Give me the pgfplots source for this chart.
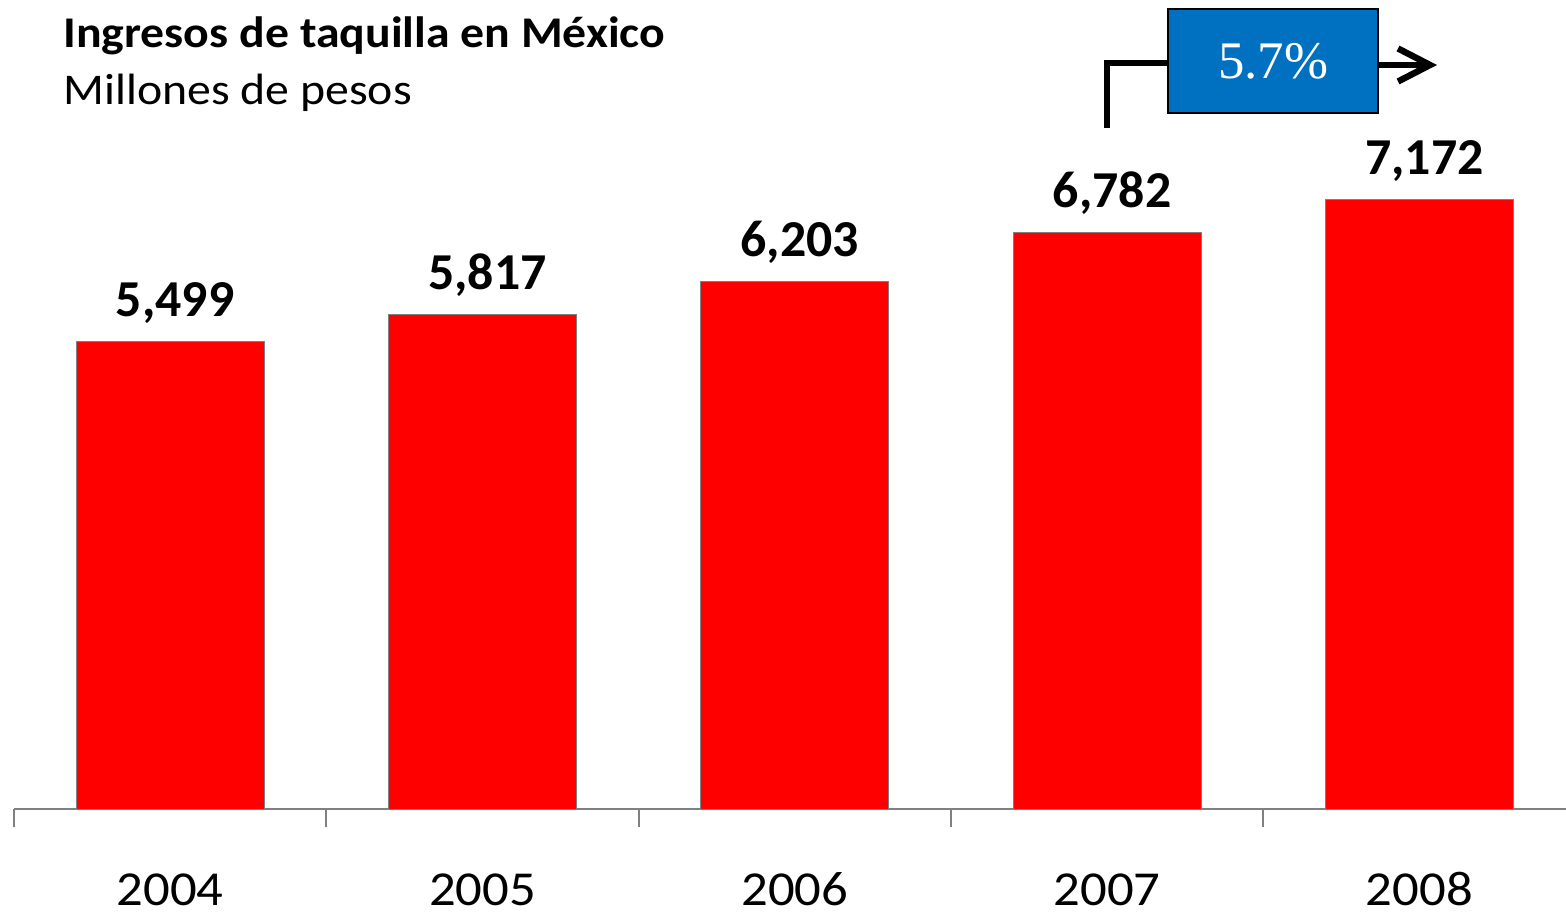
\documentclass[border=0pt]{standalone}
\usepackage{fontspec}
\setmainfont{Carlito}
\newfontfamily\serifbox{Liberation Serif}
\usepackage{graphicx}
\usepackage{pgfplots}
\pgfplotsset{compat=1.18}
\usetikzlibrary{arrows.meta}
\definecolor{barred}{RGB}{255,0,0}
\definecolor{boxblue}{RGB}{0,112,192}

\begin{document}
\begin{tikzpicture}
\useasboundingbox (0,0) rectangle (783bp,457.5bp);
\begin{axis}[
  at={(7bp,53bp)}, anchor=south west,
  scale only axis, width=776.07bp, height=403.99bp,
  clip=false,
  xmin=-0.5, xmax=4.47, ymin=0, ymax=9500,
  axis x line=bottom, axis y line=none,
  x axis line style={-,draw=gray,line width=1.2bp},
  xtick={0,...,4},
  xticklabels={\scalebox{1.08}[1]{2004},\scalebox{1.08}[1]{2005},\scalebox{1.08}[1]{2006},\scalebox{1.08}[1]{2007},\scalebox{1.08}[1]{2008}},
  minor xtick={-0.5,0.5,1.5,2.5,3.5},
  tick align=outside,
  major tick length=0pt,
  minor tick length=9bp,
  minor tick style={draw=gray,line width=1bp},
  xticklabel style={anchor=base,yshift=-48bp,font=\fontsize{24.5}{24.5}\selectfont},
  /pgf/number format/assume math mode=true,
  /pgf/number format/1000 sep={,},
  ybar, bar width=94bp,
  nodes near coords,
  every node near coord/.append style={anchor=base,yshift=12.5bp,xshift=2.5bp,inner sep=0pt,
    font=\bfseries\fontsize{26}{26}\selectfont},
]
\addplot[fill=barred, draw=gray, line width=0.5bp]
  coordinates {(0,5499) (1,5817) (2,6203) (3,6782) (4,7172)};
\end{axis}

% titles
\node[anchor=base west, inner sep=0pt, font=\bfseries\fontsize{22}{22}\selectfont]
  at (31.5bp,433.5bp) {\scalebox{1.09}[1]{Ingresos de taquilla en México}};
\node[anchor=base west, inner sep=0pt, font=\fontsize{22}{22}\selectfont]
  at (31.5bp,405bp) {\scalebox{1.09}[1]{Millones de pesos}};

% growth annotation
\draw[line width=3bp] (553.5bp,393.5bp) -- (553.5bp,426bp) -- (584bp,426bp);
\draw[line width=3.2bp, -{Straight Barb[length=16bp,width=16.5bp]}]
  (689bp,425bp) -- (718.5bp,425bp);
\draw[fill=boxblue, draw=black, line width=1bp] (584bp,401bp) rectangle (689bp,453bp);
\node[anchor=base, inner sep=0pt, text=white, font=\serifbox\fontsize{26.5}{26.5}\selectfont]
  at (636.5bp,418bp) {5.7\%};
\end{tikzpicture}
\end{document}
